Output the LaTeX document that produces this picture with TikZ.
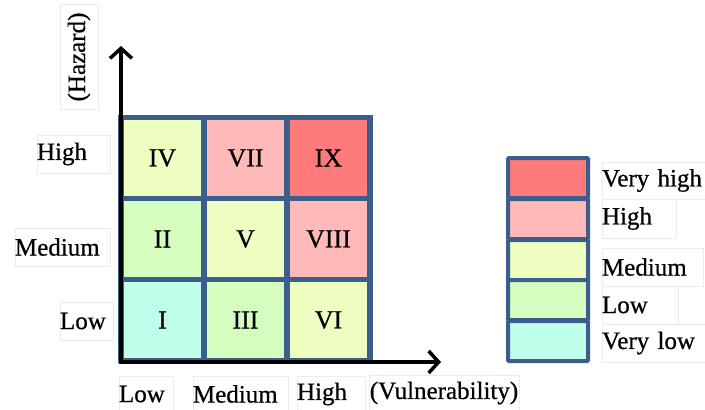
\documentclass[tikz,border=0pt]{standalone}
\usepackage{fontspec}
\setmainfont[FakeBold=0.6]{Liberation Serif}
\usetikzlibrary{arrows.meta}
\definecolor{gridblue}{RGB}{59,94,140}
\definecolor{cred}{RGB}{255,123,123}
\definecolor{cpink}{RGB}{255,185,185}
\definecolor{cyellow}{RGB}{238,254,192}
\definecolor{cgreen}{RGB}{214,253,192}
\definecolor{ccyan}{RGB}{190,254,234}
\tikzset{
  cell/.style={draw=gridblue, line width=5.5pt, minimum width=83pt, minimum height=81pt,
    inner sep=0pt, outer sep=0pt, font=\fontsize{26}{26}\selectfont},
  legcell/.style={draw=gridblue, line width=4pt, minimum width=80pt, minimum height=40pt,
    inner sep=0pt, outer sep=0pt, rounded corners=1pt},
  lbl/.style={draw=black!8, line width=0.6pt, inner sep=0pt, outer sep=0pt,
    font=\fontsize{25}{25}\selectfont, align=left},
  axis/.style={line width=4pt, -{Straight Barb[length=10pt,width=22pt,line width=3.5pt]}}
}
\begin{document}
\begin{tikzpicture}[x=1pt,y=-1pt]
\useasboundingbox (0,0) rectangle (705,410);
% grid cells
\node[cell, fill=cyellow] (c31) at (162.5,158) {IV};
\node[cell, fill=cpink]   (c32) at (245.5,158) {VII};
\node[cell, fill=cred]    (c33) at (328.5,158) {IX};
\node[cell, fill=cgreen]  (c21) at (162.5,239) {II};
\node[cell, fill=cyellow] (c22) at (245.5,239) {V};
\node[cell, fill=cpink]   (c23) at (328.5,239) {VIII};
\node[cell, fill=ccyan]   (c11) at (162.5,320) {I};
\node[cell, fill=cgreen]  (c12) at (245.5,320) {III};
\node[cell, fill=cyellow] (c13) at (328.5,320) {VI};
% axes
\coordinate (ox) at (119,362);
\coordinate (oy) at (121,364);
\coordinate (ytip) at (121,46);
\coordinate (xtip) at (441,362);
\draw[axis] (oy) -- (ytip);
\draw[axis] (ox) -- (xtip);
% axis titles
\node[lbl, rotate=90, minimum width=105pt, minimum height=38pt] (hz) at (79,57) {(Hazard)};
\node[lbl, minimum width=150pt, minimum height=36pt, anchor=north west] (vu) at (369,375) {(Vulnerability)};
% left labels
\node[lbl, minimum width=73pt, minimum height=38pt, text width=73pt] (lh) at (73.5,154) {High};
\node[lbl, minimum width=95pt, minimum height=38pt, text width=95pt] (lm) at (62.5,247) {Medium};
\node[lbl, minimum width=53pt, minimum height=38pt, text width=53pt] (ll) at (86.5,321) {Low};
% bottom labels
\node[lbl, minimum width=54pt, minimum height=36pt, text width=54pt, anchor=north] (bl) at (146,376) {Low};
\node[lbl, minimum width=95pt, minimum height=36pt, text width=95pt, anchor=north] (bm) at (240.5,376) {Medium};
\node[lbl, minimum width=68pt, minimum height=36pt, text width=68pt, anchor=north] (bh) at (331,376) {High};
% legend
\node[legcell, fill=cred]    (l5) at (548,178) {};
\node[legcell, fill=cpink]   (l4) at (548,219) {};
\node[legcell, fill=cyellow] (l3) at (548,260) {};
\node[legcell, fill=cgreen]  (l2) at (548,300) {};
\node[legcell, fill=ccyan]   (l1) at (548,341) {};
\node[lbl, minimum height=37pt, text width=104pt, anchor=west] (t5) at (602,180.5) {Very high};
\node[lbl, minimum height=39pt, text width=74pt, anchor=west] (t4) at (602,218.5) {High};
\node[lbl, minimum height=38pt, text width=101pt, anchor=west] (t3) at (602,267) {Medium};
\node[lbl, minimum height=38pt, text width=76pt, anchor=west] (t2) at (602,305) {Low};
\node[lbl, minimum height=38pt, text width=104pt, anchor=west] (t1) at (602,343) {Very low};
\end{tikzpicture}
\end{document}
